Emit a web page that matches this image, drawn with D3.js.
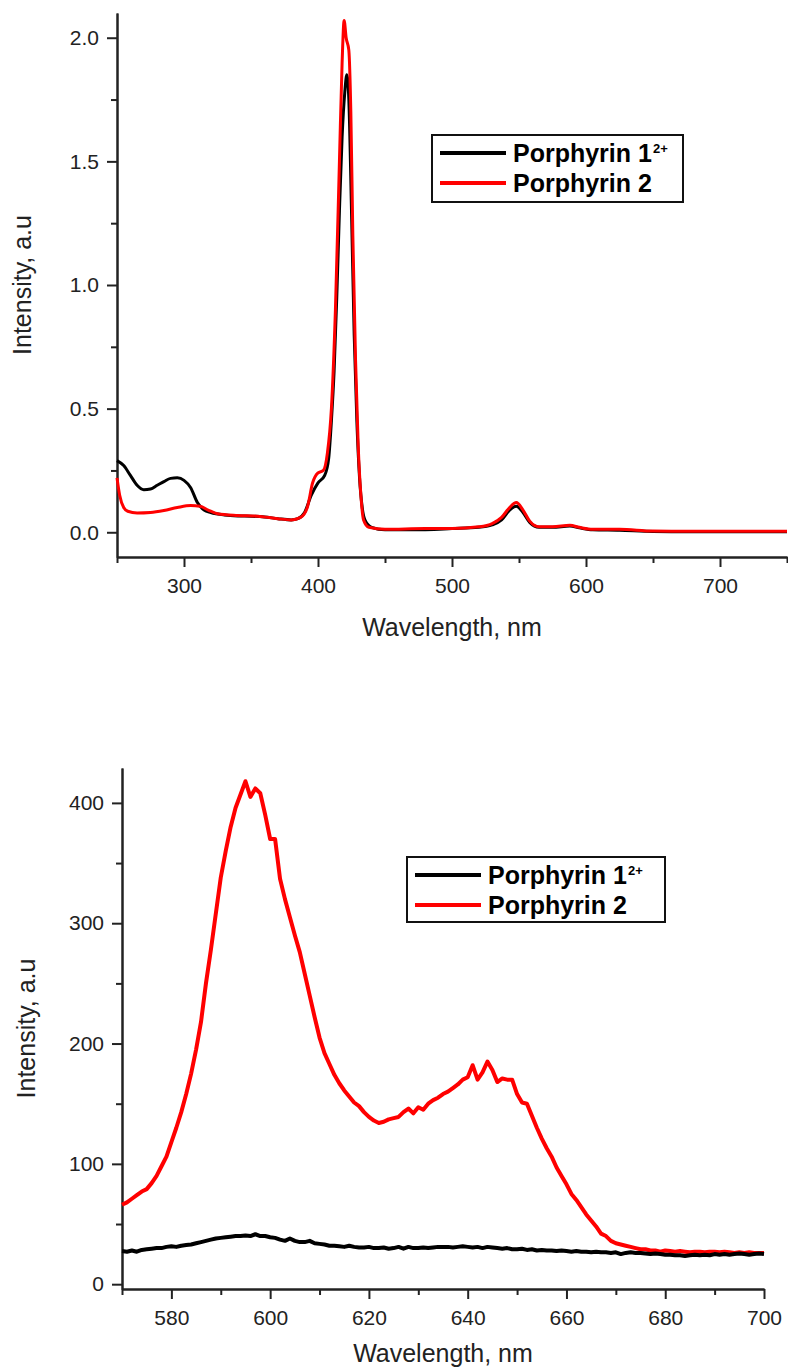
<!DOCTYPE html>
<html>
<head>
<meta charset="utf-8">
<script src="https://cdn.jsdelivr.net/npm/d3@7"></script>
<style>
  body { margin: 0; background: #fff; }
  svg { display: block; font-family: "Liberation Sans", Arial, sans-serif; }
</style>
</head>
<body>
<svg id="chart" width="788" height="1368"></svg>
<script>
// ---- absorption spectra (top panel) ----
const absWlP1 = [250, 255, 260, 265, 270, 275, 280, 285, 290, 295, 300, 305, 310, 315, 320, 330, 340, 350, 360, 370, 380, 385, 390, 395, 400, 405, 408, 410, 412, 414, 416, 418, 420, 421.5, 423, 425, 427, 429, 431, 433, 435, 440, 450, 470, 500, 520, 530, 537, 543, 548, 553, 558, 565, 575, 588, 595, 605, 625, 650, 700, 750];
const absP1 = [0.29, 0.27, 0.23, 0.19, 0.172, 0.175, 0.19, 0.205, 0.218, 0.22, 0.21, 0.18, 0.12, 0.09, 0.08, 0.07, 0.066, 0.065, 0.062, 0.055, 0.05, 0.055, 0.08, 0.15, 0.2, 0.23, 0.3, 0.45, 0.65, 0.95, 1.3, 1.6, 1.78, 1.85, 1.75, 1.3, 0.8, 0.45, 0.22, 0.1, 0.05, 0.02, 0.01, 0.01, 0.015, 0.02, 0.03, 0.05, 0.09, 0.105, 0.08, 0.04, 0.02, 0.02, 0.025, 0.018, 0.01, 0.008, 0.003, 0.002, 0.002];

const absWlP2 = [250, 252, 255, 258, 265, 275, 285, 295, 305, 312, 318, 325, 340, 355, 370, 380, 387, 392, 396, 400, 404, 407, 410, 413, 416, 418, 419.5, 421, 423, 424.5, 426, 428, 430, 432, 434, 438, 450, 480, 500, 520, 530, 537, 543, 548, 553, 558, 565, 575, 588, 595, 605, 625, 650, 700, 750];
const absP2 = [0.22, 0.15, 0.1, 0.085, 0.078, 0.08, 0.088, 0.1, 0.108, 0.105, 0.09, 0.075, 0.068, 0.065, 0.055, 0.05, 0.06, 0.1, 0.2, 0.24, 0.25, 0.32, 0.5, 0.9, 1.5, 1.9, 2.07, 2.0, 1.95, 1.7, 1.2, 0.7, 0.35, 0.15, 0.05, 0.02, 0.012, 0.015, 0.015, 0.022, 0.035, 0.06, 0.1, 0.12, 0.09, 0.045, 0.022, 0.022, 0.028, 0.02, 0.012, 0.012, 0.005, 0.004, 0.004];

const absXTicks = [300, 400, 500, 600, 700];
const absXMinor = [250, 350, 450, 550, 650, 750];
const absYTicks = [0, 0.5, 1.0, 1.5, 2.0];
const absYMinor = [0.25, 0.75, 1.25, 1.75];

// ---- emission spectra (bottom panel) ----
const emWl = [570, 571, 572, 573, 574, 575, 576, 577, 578, 579, 580, 581, 582, 583, 584, 585, 586, 587, 588, 589,
  590, 591, 592, 593, 594, 595, 596, 597, 598, 599, 600, 601, 602, 603, 604, 605, 606, 607, 608, 609,
  610, 611, 612, 613, 614, 615, 616, 617, 618, 619, 620, 621, 622, 623, 624, 625, 626, 627, 628, 629,
  630, 631, 632, 633, 634, 635, 636, 637, 638, 639, 640, 641, 642, 643, 644, 645, 646, 647, 648, 649,
  650, 651, 652, 653, 654, 655, 656, 657, 658, 659, 660, 661, 662, 663, 664, 665, 666, 667, 668, 669,
  670, 671, 672, 673, 674, 675, 676, 677, 678, 679, 680, 681, 682, 683, 684, 685, 686, 687, 688, 689,
  690, 691, 692, 693, 694, 695, 696, 697, 698, 699, 700];
const emP1 = [27.5, 27, 28, 27, 28.5, 29, 29.5, 30, 30, 31, 31.5, 31, 32, 32.5, 33, 34, 35, 36, 37, 38,
  38.5, 39, 39.5, 40, 40, 40.5, 40, 41.5, 40, 40, 39, 38.5, 37, 36, 38, 36, 35, 35, 36, 34,
  33.5, 33, 32, 32, 31.5, 31, 32, 31, 30.5, 30.5, 31, 30, 30, 30.5, 29.5, 30, 31, 29.5, 31, 30,
  30, 30.5, 30, 30.5, 31, 31, 31, 30.5, 31, 31.5, 31, 30.5, 31, 30, 31, 30.5, 30, 29.5, 30, 29,
  29, 29.5, 28.5, 29, 28, 28.5, 28, 28, 27.5, 28, 27.5, 27, 27.5, 27, 27, 26.5, 27, 26.5, 26.5, 26,
  26.5, 25, 26, 26.5, 26, 26, 25.5, 25, 25.5, 25, 24.5, 24.5, 24, 24, 23.5, 24, 24.5, 24, 24.5, 24,
  25, 24.5, 25, 24.5, 25, 25.5, 25, 24.5, 25, 25.5, 25];
const emP2 = [66, 68, 71, 74, 77, 79, 84, 90, 98, 106, 118, 130, 143, 158, 175, 195, 218, 250, 278, 308,
  338, 360, 380, 396, 407, 418, 405, 412, 408, 390, 370, 370, 337, 320, 305, 290, 276, 258, 240, 222,
  205, 192, 183, 174, 167, 161, 156, 151, 148, 143, 139, 136, 134, 135, 137, 138, 139, 143, 146, 142,
  147, 145, 150, 153, 155, 158, 160, 163, 166, 170, 172, 182, 170, 176, 185, 178, 168, 171, 170, 170,
  158, 151, 150, 140, 130, 121, 113, 106, 97, 90, 83, 75, 70, 64, 58, 53, 48, 42, 40, 36,
  34, 33, 32, 31, 30, 29, 29, 28, 28, 27, 28, 27.5, 27, 27.5, 27, 26.5, 27, 27, 26.5, 27,
  27, 26.5, 27, 26.5, 26, 26.5, 26, 26.5, 26, 26, 26];

const emXTicks = [580, 600, 620, 640, 660, 680, 700];
const emXMinor = [570, 590, 610, 630, 650, 670, 690];
const emYTicks = [0, 100, 200, 300, 400];
const emYMinor = [50, 150, 250, 350];

const seriesNames = ["Porphyrin 1", "Porphyrin 2"];
const seriesColors = ["#000000", "#ff0000"];

const svg = d3.select("#chart");

function drawPanel(p) {
  const g = svg.append("g");
  const x = d3.scaleLinear().domain(p.xDomain).range([p.left, p.right]);
  const y = d3.scaleLinear().domain(p.yDomain).range([p.bottom, p.top]);

  // minor ticks
  g.append("g")
      .attr("transform", `translate(0,${p.bottom})`)
      .call(d3.axisBottom(x).tickValues(p.xMinor).tickSize(6).tickSizeOuter(0).tickFormat(""));
  g.append("g")
      .attr("transform", `translate(${p.left},0)`)
      .call(d3.axisLeft(y).tickValues(p.yMinor).tickSize(6).tickSizeOuter(0).tickFormat(""));

  // X axis
  g.append("g")
      .attr("transform", `translate(0,${p.bottom})`)
      .call(d3.axisBottom(x).tickValues(p.xTicks).tickSize(10).tickSizeOuter(0).tickPadding(11));
  // Y axis
  g.append("g")
      .attr("transform", `translate(${p.left},0)`)
      .call(d3.axisLeft(y).tickValues(p.yTicks).tickSize(10).tickSizeOuter(0).tickPadding(8)
          .tickFormat(p.yFormat));

  g.selectAll(".domain").attr("stroke", "#222").attr("stroke-width", 2);
  g.selectAll(".tick line").attr("stroke", "#222").attr("stroke-width", 2);
  g.selectAll(".tick text").style("font-size", "21px").attr("fill", "#222");

  // axis titles
  g.append("text")
      .attr("text-anchor", "middle")
      .attr("x", (p.left + p.right) / 2)
      .attr("y", p.xTitleY)
      .style("font-size", "25px")
      .attr("fill", "#222")
      .text("Wavelength, nm");
  g.append("text")
      .attr("text-anchor", "middle")
      .attr("transform", `translate(${p.yTitleX},${(p.top + p.bottom) / 2}) rotate(-90)`)
      .style("font-size", "25px")
      .attr("fill", "#222")
      .text("Intensity, a.u");

  // lines
  p.series.forEach(s => {
    const pts = s.xs.map((v, i) => [v, s.ys[i]]);
    g.append("path")
        .datum(pts)
        .attr("fill", "none")
        .attr("stroke", s.color)
        .attr("stroke-width", p.lineWidth)
        .attr("stroke-linejoin", "round")
        .attr("d", d3.line()
            .curve(p.curve)
            .x(d => x(d[0]))
            .y(d => y(d[1]))
        );
  });

  // legend
  const L = p.legend;
  g.append("rect")
      .attr("x", L.x).attr("y", L.y)
      .attr("width", L.w).attr("height", L.h)
      .attr("fill", "#fff")
      .attr("stroke", "#111")
      .attr("stroke-width", 2);
  seriesNames.forEach((name, i) => {
    const ly = L.y + 18 + i * 30;
    g.append("line")
        .attr("x1", L.x + 8).attr("x2", L.x + 74)
        .attr("y1", ly).attr("y2", ly)
        .attr("stroke", seriesColors[i])
        .attr("stroke-width", 4);
    const t = g.append("text")
        .attr("x", L.x + 81)
        .attr("y", ly + 9)
        .style("font-size", "25px")
        .style("font-weight", "bold")
        .text(name);
    if (i === 0) {
      t.append("tspan")
          .attr("dy", -9)
          .attr("dx", 1)
          .style("font-size", "13px")
          .text("2+");
    }
  });
}

// top panel: absorption
drawPanel({
  xDomain: [250, 750], yDomain: [-0.1, 2.1],
  left: 117, right: 787, top: 13, bottom: 557,
  xTicks: absXTicks, xMinor: absXMinor, yTicks: absYTicks, yMinor: absYMinor,
  yFormat: d3.format(".1f"),
  xTitleY: 636, yTitleX: 31,
  lineWidth: 3, curve: d3.curveMonotoneX,
  series: [
    { xs: absWlP1, ys: absP1, color: seriesColors[0] },
    { xs: absWlP2, ys: absP2, color: seriesColors[1] }
  ],
  legend: { x: 432, y: 135, w: 251, h: 67 }
});

// bottom panel: emission
drawPanel({
  xDomain: [570, 700], yDomain: [-4, 429],
  left: 122, right: 764, top: 768, bottom: 1289,
  xTicks: emXTicks, xMinor: emXMinor, yTicks: emYTicks, yMinor: emYMinor,
  yFormat: d3.format("d"),
  xTitleY: 1362, yTitleX: 35,
  lineWidth: 4, curve: d3.curveLinear,
  series: [
    { xs: emWl, ys: emP2, color: seriesColors[1] },
    { xs: emWl, ys: emP1, color: seriesColors[0] }
  ],
  legend: { x: 407, y: 857, w: 258, h: 65 }
});
</script>
</body>
</html>
